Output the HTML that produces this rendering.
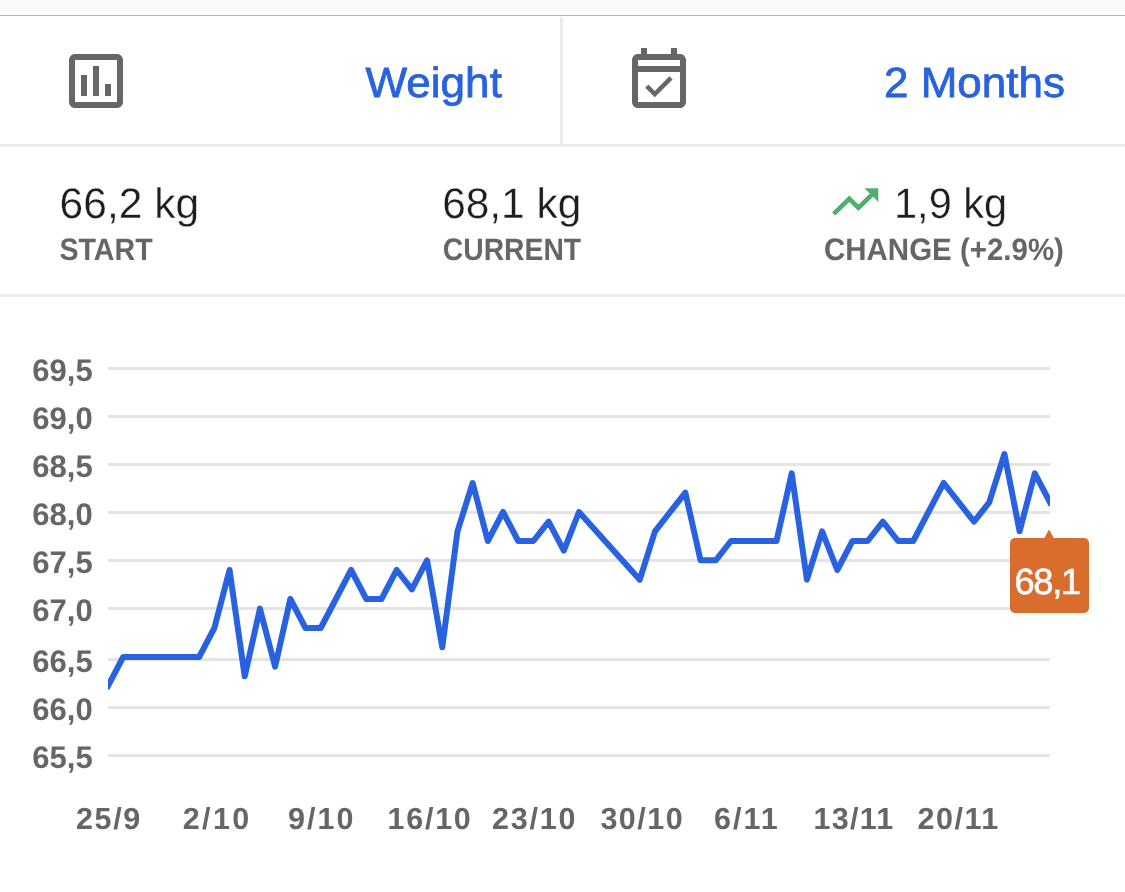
<!DOCTYPE html>
<html><head><meta charset="utf-8"><title>Weight</title>
<style>
html,body{margin:0;padding:0;background:#fff;}
body{width:1125px;height:892px;position:relative;overflow:hidden;font-family:"Liberation Sans",sans-serif;}
.a{position:absolute;}
svg text{font-family:"Liberation Sans",sans-serif;}
svg{will-change:transform;}
</style></head><body>
<div class="a" style="left:0;top:0;width:1125px;height:14px;background:#f9f9f9"></div>
<div class="a" style="left:0;top:15px;width:1125px;height:1px;background:#b3b3b3"></div>
<div class="a" style="left:560px;top:17px;width:3px;height:127px;background:#ececec"></div>
<div class="a" style="left:0;top:144px;width:1125px;height:3px;background:#ececec"></div>
<div class="a" style="left:0;top:294px;width:1125px;height:3px;background:#ececec"></div>
<svg class="a" style="left:0;top:0" width="1125" height="892" viewBox="0 0 1125 892">
<g transform="translate(60,45) scale(3)" fill="#666">
<path d="M9 17H7v-7h2v7zm4 0h-2V7h2v10zm4 0h-2v-4h2v4zm2 2H5V5h14v14zm0-16H5c-1.1 0-2 .9-2 2v14c0 1.1.9 2 2 2h14c1.1 0 2-.9 2-2V5c0-1.1-.9-2-2-2z"/>
</g>
<g transform="translate(623,45) scale(3)" fill="#666">
<path d="M19 3h-1V1h-2v2H8V1H6v2H5c-1.11 0-1.99.9-1.99 2L3 19c0 1.1.89 2 2 2h14c1.1 0 2-.9 2-2V5c0-1.1-.9-2-2-2zm0 16H5V9h14v10zM5 7V5h14v2H5z"/>
<path transform="translate(0,0.42)" d="M16.53 11.06L15.47 10l-4.88 4.88-2.12-2.12-1.06 1.06L10.59 17l5.94-5.94z"/>
</g>
<g transform="translate(827.5,174.7) scale(2.31,2.27)" fill="#50af6c">
<path d="M16 6l2.29 2.29-4.88 4.88-4-4L2 16.59 3.41 18l6-6 4 4 6.3-6.29L22 12V6z"/>
</g>
<g fill="#e4e4e4">
<rect x="108" y="367" width="942" height="3"/>
<rect x="108" y="415" width="942" height="3"/>
<rect x="108" y="463" width="942" height="3"/>
<rect x="108" y="511" width="942" height="3"/>
<rect x="108" y="559" width="942" height="3"/>
<rect x="108" y="607" width="942" height="3"/>
<rect x="108" y="658" width="942" height="3"/>
<rect x="108" y="706" width="942" height="3"/>
<rect x="108" y="754" width="942" height="3"/>
</g>
<clipPath id="cp"><rect x="108" y="300" width="942" height="480"/></clipPath>
<polyline clip-path="url(#cp)" points="108.00,686.00 123.19,657.00 138.39,657.00 153.58,657.00 168.77,657.00 183.97,657.00 199.16,657.00 214.35,628.00 229.55,570.00 244.74,676.33 259.94,608.66 275.13,666.67 290.32,599.00 305.52,628.00 320.71,628.00 335.90,599.00 351.10,570.00 366.29,599.00 381.48,599.00 396.68,570.00 411.87,589.33 427.06,560.33 442.26,647.33 457.45,531.33 472.65,482.99 487.84,541.00 503.03,512.00 518.23,541.00 533.42,541.00 548.61,521.66 563.81,550.66 579.00,512.00 639.77,579.66 654.97,531.33 670.16,512.00 685.35,492.66 700.55,560.33 715.74,560.33 730.94,541.00 746.13,541.00 761.32,541.00 776.52,541.00 791.71,473.33 806.90,579.66 822.10,531.33 837.29,570.00 852.48,541.00 867.68,541.00 882.87,521.66 898.06,541.00 913.26,541.00 928.45,512.00 943.65,482.99 958.84,502.33 974.03,521.66 989.23,502.33 1004.42,453.99 1019.61,531.33 1034.81,473.33 1050.00,502.33" fill="none" stroke="#2962e0" stroke-width="6" stroke-linejoin="round" stroke-linecap="square"/>
<path d="M1044.3 538 L1049 529.5 L1053.8 538 Z" fill="#d86d2e"/>
<rect x="1010" y="538" width="79" height="75" rx="5" fill="#d86d2e"/>
<text transform="translate(365.40,97.00) scale(1.0458,1)" font-size="42.2" text-rendering="geometricPrecision" fill="#2862e0" stroke="#2862e0" stroke-width="0.75">Weight</text>
<text transform="translate(884.00,97.00) scale(1.0433,1)" font-size="42.2" text-rendering="geometricPrecision" fill="#2862e0" stroke="#2862e0" stroke-width="0.75">2 Months</text>
<text transform="translate(59.60,218.00) scale(0.9958,1)" font-size="42.7" text-rendering="geometricPrecision" fill="#1e1e1e" stroke="#ffffff" stroke-width="0.3">66,2 kg</text>
<text transform="translate(59.40,260.00) scale(0.9230,1)" font-size="31" font-weight="bold" text-rendering="geometricPrecision" fill="#666666">START</text>
<text transform="translate(442.20,218.00) scale(0.9928,1)" font-size="42.7" text-rendering="geometricPrecision" fill="#1e1e1e" stroke="#ffffff" stroke-width="0.3">68,1 kg</text>
<text transform="translate(442.80,260.00) scale(0.9125,1)" font-size="31" font-weight="bold" text-rendering="geometricPrecision" fill="#666666">CURRENT</text>
<text transform="translate(894.00,218.00) scale(0.9731,1)" font-size="42.7" text-rendering="geometricPrecision" fill="#1e1e1e" stroke="#ffffff" stroke-width="0.3">1,9 kg</text>
<text transform="translate(824.00,260.00) scale(0.9506,1)" font-size="31" font-weight="bold" text-rendering="geometricPrecision" fill="#666666">CHANGE (+2.9%)</text>
<text transform="translate(32.20,381.00) scale(0.9960,1)" font-size="31.2" font-weight="bold" text-rendering="geometricPrecision" fill="#666666">69,5</text>
<text transform="translate(32.20,429.00) scale(0.9960,1)" font-size="31.2" font-weight="bold" text-rendering="geometricPrecision" fill="#666666">69,0</text>
<text transform="translate(32.20,477.00) scale(0.9960,1)" font-size="31.2" font-weight="bold" text-rendering="geometricPrecision" fill="#666666">68,5</text>
<text transform="translate(32.20,525.00) scale(0.9960,1)" font-size="31.2" font-weight="bold" text-rendering="geometricPrecision" fill="#666666">68,0</text>
<text transform="translate(32.20,573.00) scale(0.9960,1)" font-size="31.2" font-weight="bold" text-rendering="geometricPrecision" fill="#666666">67,5</text>
<text transform="translate(32.20,621.00) scale(0.9960,1)" font-size="31.2" font-weight="bold" text-rendering="geometricPrecision" fill="#666666">67,0</text>
<text transform="translate(32.20,672.00) scale(0.9960,1)" font-size="31.2" font-weight="bold" text-rendering="geometricPrecision" fill="#666666">66,5</text>
<text transform="translate(32.20,720.00) scale(0.9960,1)" font-size="31.2" font-weight="bold" text-rendering="geometricPrecision" fill="#666666">66,0</text>
<text transform="translate(32.20,768.00) scale(0.9960,1)" font-size="31.2" font-weight="bold" text-rendering="geometricPrecision" fill="#666666">65,5</text>
<text transform="translate(75.90,829.00) scale(1.0000,1)" font-size="30.5" font-weight="bold" letter-spacing="1.67" text-rendering="geometricPrecision" fill="#666666">25/9</text>
<text transform="translate(182.80,829.00) scale(1.0000,1)" font-size="30.5" font-weight="bold" letter-spacing="2.33" text-rendering="geometricPrecision" fill="#666666">2/10</text>
<text transform="translate(288.10,829.00) scale(1.0000,1)" font-size="30.5" font-weight="bold" letter-spacing="2.00" text-rendering="geometricPrecision" fill="#666666">9/10</text>
<text transform="translate(387.50,829.00) scale(1.0000,1)" font-size="30.5" font-weight="bold" letter-spacing="1.75" text-rendering="geometricPrecision" fill="#666666">16/10</text>
<text transform="translate(492.10,829.00) scale(1.0000,1)" font-size="30.5" font-weight="bold" letter-spacing="1.75" text-rendering="geometricPrecision" fill="#666666">23/10</text>
<text transform="translate(600.40,829.00) scale(1.0000,1)" font-size="30.5" font-weight="bold" letter-spacing="1.50" text-rendering="geometricPrecision" fill="#666666">30/10</text>
<text transform="translate(714.00,829.00) scale(1.0000,1)" font-size="30.5" font-weight="bold" letter-spacing="2.00" text-rendering="geometricPrecision" fill="#666666">6/11</text>
<text transform="translate(813.60,829.00) scale(1.0000,1)" font-size="30.5" font-weight="bold" letter-spacing="1.25" text-rendering="geometricPrecision" fill="#666666">13/11</text>
<text transform="translate(917.50,829.00) scale(1.0000,1)" font-size="30.5" font-weight="bold" letter-spacing="1.50" text-rendering="geometricPrecision" fill="#666666">20/11</text>
<text transform="translate(1014.40,594.00) scale(1.0000,1)" font-size="36.4" letter-spacing="-1.30" text-rendering="geometricPrecision" fill="#ffffff" stroke="#ffffff" stroke-width="0.6">68,1</text>
</svg>
</body></html>
